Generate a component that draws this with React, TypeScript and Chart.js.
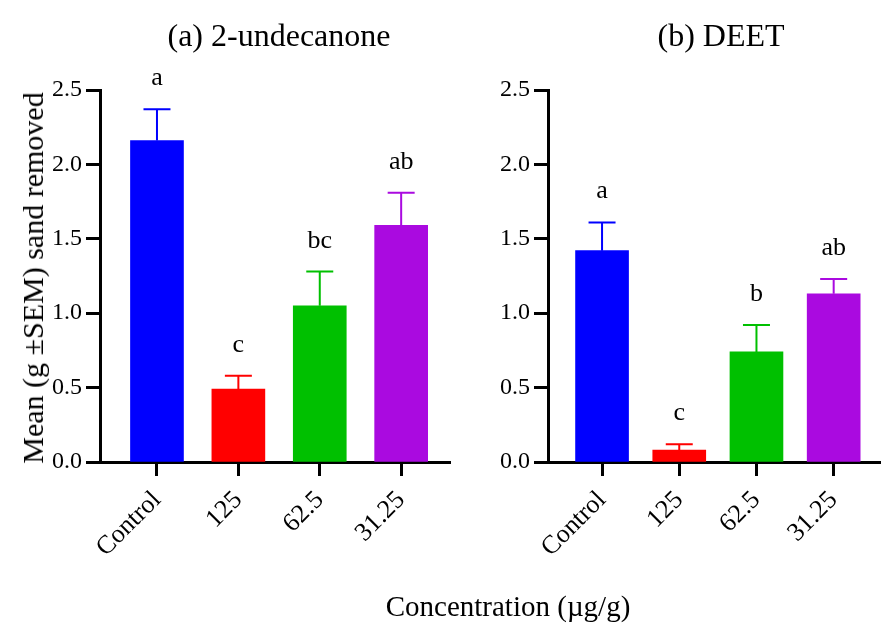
import React, { useEffect, useRef } from "react";
import { Chart, registerables } from "chart.js";
Chart.register(...registerables);

const categories = ["Control", "125", "62.5", "31.25"];
const undecanoneMeans = [2.16, 0.49, 1.05, 1.59];
const undecanoneSEM = [0.21, 0.09, 0.23, 0.22];
const undecanoneLetters = ["a", "c", "bc", "ab"];
const deetMeans = [1.42, 0.08, 0.74, 1.13];
const deetSEM = [0.19, 0.04, 0.18, 0.1];
const deetLetters = ["a", "c", "b", "ab"];
const barColors = ["#0000ff", "#ff0000", "#00c000", "#aa0ae0"];
const yTickValues = [0, 0.5, 1, 1.5, 2, 2.5];

const FONT = "'Liberation Serif','Times New Roman',serif";

const errorPlugin = {
  id: "errLetters",
  afterDatasetsDraw(chart: any, _args: any, opts: any) {
    const ctx = chart.ctx;
    const meta = chart.getDatasetMeta(0);
    const yScale = chart.scales.y;
    const means: number[] = opts.means;
    const sems: number[] = opts.sems;
    const letters: string[] = opts.letters;
    ctx.save();
    meta.data.forEach((bar: any, i: number) => {
      const x = bar.x;
      const yTop = yScale.getPixelForValue(means[i]);
      const yCap = yScale.getPixelForValue(means[i] + sems[i]);
      ctx.strokeStyle = barColors[i];
      ctx.lineWidth = 2;
      ctx.beginPath();
      ctx.moveTo(x, yTop);
      ctx.lineTo(x, yCap);
      ctx.moveTo(x - 13.5, yCap);
      ctx.lineTo(x + 13.5, yCap);
      ctx.stroke();
      ctx.fillStyle = "#000";
      ctx.font = `26px ${FONT}`;
      ctx.textAlign = "center";
      ctx.textBaseline = "alphabetic";
      ctx.fillText(letters[i], x, yCap - 24);
    });
    ctx.restore();
  },
};

function Panel(props: {
  left: number;
  width: number;
  yWidth: number;
  padRight: number;
  means: number[];
  sems: number[];
  letters: string[];
}) {
  const ref = useRef<HTMLCanvasElement>(null);
  useEffect(() => {
    if (!ref.current) return;
    const chart = new Chart(ref.current, {
      type: "bar",
      data: {
        datasets: [
          {
            data: props.means.map((v, i) => ({ x: i, y: v })),
            backgroundColor: barColors,
            borderWidth: 0,
            barThickness: 53,
          },
        ],
      },
      plugins: [errorPlugin],
      options: {
        animation: false,
        responsive: false,
        devicePixelRatio: 1,
        layout: { padding: { top: 90, left: 0, right: props.padRight, bottom: 0 } },
        plugins: {
          legend: { display: false },
          tooltip: { enabled: false },
          errLetters: { means: props.means, sems: props.sems, letters: props.letters },
        } as any,
        scales: {
          x: {
            type: "linear",
            min: -0.7,
            max: 3.6,
            offset: false,
            afterBuildTicks: (s: any) => {
              s.ticks = categories.map((_, i) => ({ value: i }));
            },
            afterFit: (s: any) => {
              s.height = 164;
            },
            ticks: {
              autoSkip: false,
              minRotation: 45,
              maxRotation: 45,
              padding: 9,
              color: "#000",
              font: { family: FONT, size: 26 },
              callback: (v: any) => categories[v as number] ?? "",
            },
            grid: {
              offset: false,
              drawOnChartArea: false,
              drawTicks: true,
              tickLength: 14,
              tickWidth: 3,
              tickColor: "#000",
            },
            border: { display: true, width: 3, color: "#000" },
          },
          y: {
            type: "linear",
            min: 0,
            max: 2.5,
            afterBuildTicks: (s: any) => {
              s.ticks = yTickValues.map((v) => ({ value: v }));
            },
            afterFit: (s: any) => {
              s.width = props.yWidth;
            },
            ticks: {
              padding: 4,
              color: "#000",
              font: { family: FONT, size: 24 },
              callback: (v: any) => Number(v).toFixed(1),
            },
            grid: {
              drawOnChartArea: false,
              drawTicks: true,
              tickLength: 14,
              tickWidth: 3,
              tickColor: "#000",
            },
            border: { display: true, width: 3, color: "#000" },
          },
        } as any,
      },
    } as any);
    return () => chart.destroy();
  }, []);
  return (
    <canvas
      ref={ref}
      width={props.width}
      height={626}
      style={{ position: "absolute", left: props.left, top: 0, width: props.width, height: 626 }}
    />
  );
}

const textStyle: React.CSSProperties = {
  position: "absolute",
  fontFamily: FONT,
  color: "#000",
  whiteSpace: "nowrap",
  lineHeight: 1,
};

export default function App() {
  return (
    <div
      style={{
        position: "fixed",
        left: 0,
        top: 0,
        width: 890,
        height: 626,
        background: "#fff",
        overflow: "hidden",
      }}
    >
      <Panel left={0} width={455} yWidth={100} padRight={5} means={undecanoneMeans} sems={undecanoneSEM} letters={undecanoneLetters} />
      <Panel left={455} width={435} yWidth={93} padRight={10} means={deetMeans} sems={deetSEM} letters={deetLetters} />
      <div style={{ ...textStyle, fontSize: 32, left: 279, top: 35, transform: "translate(-50%,-50%)" }}>
        (a) 2-undecanone
      </div>
      <div style={{ ...textStyle, fontSize: 32, left: 721, top: 35, transform: "translate(-50%,-50%)" }}>
        (b) DEET
      </div>
      <div
        style={{
          ...textStyle,
          fontSize: 30,
          left: 33,
          top: 278,
          transform: "translate(-50%,-50%) rotate(-90deg)",
        }}
      >
        Mean (g ±SEM) sand removed
      </div>
      <div style={{ ...textStyle, fontSize: 29, left: 508, top: 606, transform: "translate(-50%,-50%)" }}>
        Concentration (µg/g)
      </div>
    </div>
  );
}
